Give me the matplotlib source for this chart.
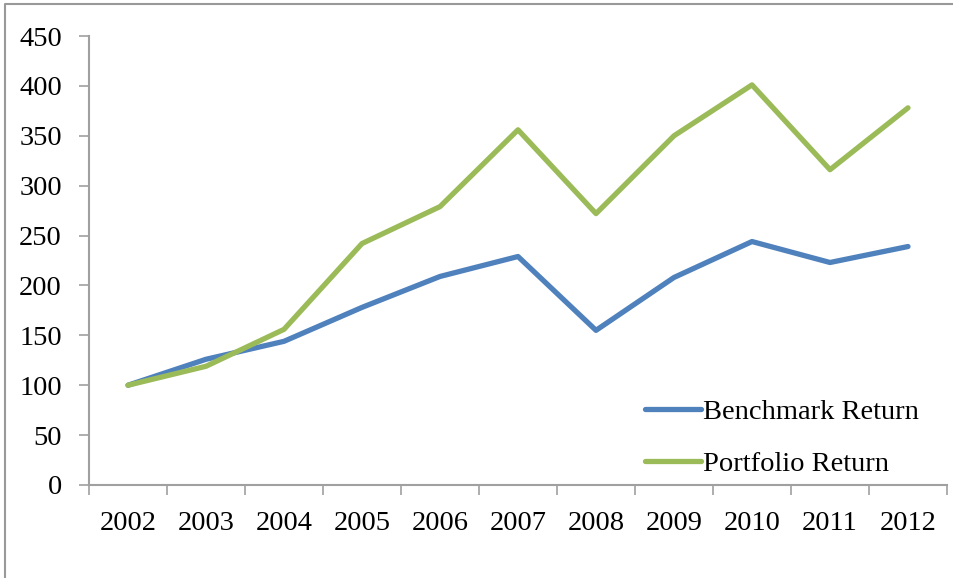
import matplotlib
matplotlib.use("Agg")
import matplotlib.pyplot as plt
from matplotlib.lines import Line2D
import numpy as np

years = ["2002", "2003", "2004", "2005", "2006", "2007", "2008", "2009", "2010", "2011", "2012"]
benchmark = [100, 126, 144, 178, 209, 229, 155, 208, 244, 223, 239]
portfolio = [100, 119, 156, 242, 279, 356, 272, 350, 401, 316, 378]
yticks = [0, 50, 100, 150, 200, 250, 300, 350, 400, 450]

W, H = 954, 578
fig = plt.figure(figsize=(W / 100, H / 100), dpi=100)
font = "Liberation Serif"
fs = 20.5

ax = fig.add_axes([89 / W, 1 - 485 / H, (947 - 89) / W, (485 - 36) / H])
x = np.arange(len(years))
blue = "#4F81BD"
green = "#9BBB59"
ax.plot(x, benchmark, color=blue, lw=3.8, solid_capstyle="round", solid_joinstyle="round", label="Benchmark Return")
ax.plot(x, portfolio, color=green, lw=3.8, solid_capstyle="round", solid_joinstyle="round", label="Portfolio Return")

ax.set_xlim(-0.5, len(years) - 0.5)
ax.set_ylim(0, 450)
ax.set_yticks(yticks)
ax.set_yticklabels([str(v) for v in yticks], fontname=font, fontsize=fs)
ax.set_xticks(np.arange(-0.5, len(years), 1.0))
ax.set_xticklabels([])
ax.set_xticks(x, minor=True)
ax.set_xticklabels(years, minor=True, fontname=font, fontsize=fs)
ax.tick_params(axis="x", which="minor", length=0, pad=19)
ax.tick_params(axis="x", which="major", length=7, width=1.2, color="#a0a0a0", direction="out")
ax.tick_params(axis="y", length=7, width=1.2, color="#a0a0a0", direction="out", pad=12.5)
for s in ["top", "right"]:
    ax.spines[s].set_visible(False)
for s in ["left", "bottom"]:
    ax.spines[s].set_color("#a0a0a0")
    ax.spines[s].set_linewidth(1.5)

leg = ax.legend(loc="lower left", bbox_to_anchor=(645 / W, 1 - 477 / H), bbox_transform=fig.transFigure,
                frameon=False, prop={"family": font, "size": fs}, handlelength=1.95, handletextpad=0.1,
                labelspacing=0.92, borderaxespad=0.0, borderpad=0.0)

# outer border (top and left)
fig.add_artist(Line2D([5 / W, 5 / W, 1.0], [0.0, 1 - 4 / H, 1 - 4 / H], transform=fig.transFigure,
                      color="#999999", lw=1.5))

fig.savefig("out.png", dpi=100)
